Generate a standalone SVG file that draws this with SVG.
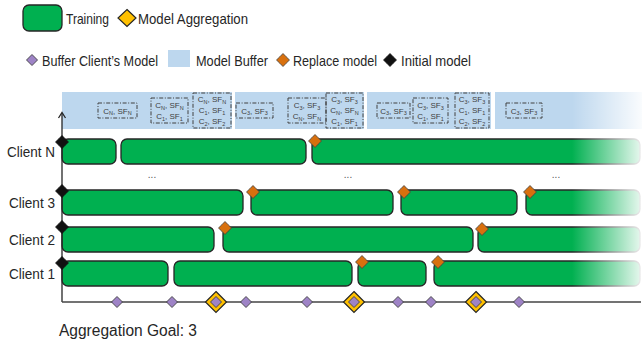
<svg xmlns="http://www.w3.org/2000/svg" width="642" height="346" viewBox="0 0 642 346">
<defs>
<style>
text{font-family:"Liberation Sans",Arial,sans-serif;fill:#262626}
.lg{font-size:15px}
.cl{font-size:15px;text-anchor:end}
.bx{font-size:8px;text-anchor:middle;fill:#404040}
.sub{font-size:5.5px}
.bar{fill:#00B050;stroke:#262626;stroke-width:1.3}
.buf{fill:#BDD7EE}
.dash{fill:none;stroke:#404040;stroke-width:1;stroke-dasharray:4 1.6 1 1.6}
.rep{fill:#D8700E;stroke:#404040;stroke-width:0.8;stroke-linejoin:round}
.ini{fill:#111;stroke:#111;stroke-width:0.8;stroke-linejoin:round}
.pur{fill:#9E83C6;stroke:#404040;stroke-width:0.9}
.agg{fill:#FFC000;stroke:#262626;stroke-width:1.2}
.ax{stroke:#262626;stroke-width:1.3;fill:none}
.dots{font-size:10px;fill:#555;text-anchor:middle}
</style>
<path id="star" d="M0,-6.5 L3.2,-3.2 L6.5,0 L3.2,3.2 L0,6.5 L-3.2,3.2 L-6.5,0 L-3.2,-3.2 Z"/>
<linearGradient id="fade" x1="0" y1="0" x2="1" y2="0">
<stop offset="0" stop-color="#fff" stop-opacity="0"/>
<stop offset="1" stop-color="#fff" stop-opacity="0.92"/>
</linearGradient>
</defs>
<rect width="642" height="346" fill="#fff"/>

<g id="legend">
<rect class="bar" x="23" y="5" width="39" height="26" rx="6"/>
<text class="lg" x="66" y="23.5" textLength="43" lengthAdjust="spacingAndGlyphs">Training</text>
<polygon class="agg" points="127,9.5 136,18 127,26.5 118,18"/>
<text class="lg" x="138" y="23.5" textLength="110" lengthAdjust="spacingAndGlyphs">Model Aggregation</text>
<polygon class="pur" points="32,54.5 37.5,60 32,65.5 26.5,60"/>
<text class="lg" x="42" y="65.5" textLength="116" lengthAdjust="spacingAndGlyphs">Buffer Client’s Model</text>
<rect class="buf" x="168" y="50" width="22" height="17"/>
<text class="lg" x="196" y="65.5" textLength="72" lengthAdjust="spacingAndGlyphs">Model Buffer</text>
<use href="#star" class="rep" x="283" y="60"/>
<text class="lg" x="293" y="65.5" textLength="84" lengthAdjust="spacingAndGlyphs">Replace model</text>
<use href="#star" class="ini" x="390" y="60"/>
<text class="lg" x="401" y="65.5" textLength="70" lengthAdjust="spacingAndGlyphs">Initial model</text>
</g>

<g id="model-buffer">
<rect class="buf" x="62" y="92" width="170" height="37"/>
<rect class="buf" x="235" y="92" width="129" height="37"/>
<rect class="buf" x="367" y="92" width="124" height="37"/>
<rect class="buf" x="495" y="92" width="147" height="37"/>
</g>

<g id="buffer-boxes">
<g id="box1"><rect class="dash" x="98" y="103" width="39" height="15"/>
<text class="bx" x="117.5" y="113.5">C<tspan class="sub" dy="1.5">N</tspan><tspan dy="-1.5">, SF</tspan><tspan class="sub" dy="1.5">N</tspan></text></g>
<g id="box2"><rect class="dash" x="151" y="98" width="37" height="25"/>
<text class="bx" x="169.5" y="108">C<tspan class="sub" dy="1.5">N</tspan><tspan dy="-1.5">, SF</tspan><tspan class="sub" dy="1.5">N</tspan></text>
<text class="bx" x="169.5" y="119">C<tspan class="sub" dy="1.5">1</tspan><tspan dy="-1.5">, SF</tspan><tspan class="sub" dy="1.5">1</tspan></text></g>
<g id="box3"><rect class="dash" x="193" y="93" width="38" height="35"/>
<text class="bx" x="212" y="102">C<tspan class="sub" dy="1.5">N</tspan><tspan dy="-1.5">, SF</tspan><tspan class="sub" dy="1.5">N</tspan></text>
<text class="bx" x="212" y="113">C<tspan class="sub" dy="1.5">1</tspan><tspan dy="-1.5">, SF</tspan><tspan class="sub" dy="1.5">1</tspan></text>
<text class="bx" x="212" y="124">C<tspan class="sub" dy="1.5">2</tspan><tspan dy="-1.5">, SF</tspan><tspan class="sub" dy="1.5">2</tspan></text></g>
<g id="box4"><rect class="dash" x="236" y="103" width="37" height="15"/>
<text class="bx" x="254.5" y="113.5">C<tspan class="sub" dy="1.5">3</tspan><tspan dy="-1.5">, SF</tspan><tspan class="sub" dy="1.5">3</tspan></text></g>
<g id="box5"><rect class="dash" x="288" y="98" width="38" height="25"/>
<text class="bx" x="307" y="108">C<tspan class="sub" dy="1.5">3</tspan><tspan dy="-1.5">, SF</tspan><tspan class="sub" dy="1.5">3</tspan></text>
<text class="bx" x="307" y="119">C<tspan class="sub" dy="1.5">N</tspan><tspan dy="-1.5">, SF</tspan><tspan class="sub" dy="1.5">N</tspan></text></g>
<g id="box6"><rect class="dash" x="326" y="93" width="37" height="35"/>
<text class="bx" x="344.5" y="102">C<tspan class="sub" dy="1.5">3</tspan><tspan dy="-1.5">, SF</tspan><tspan class="sub" dy="1.5">3</tspan></text>
<text class="bx" x="344.5" y="113">C<tspan class="sub" dy="1.5">N</tspan><tspan dy="-1.5">, SF</tspan><tspan class="sub" dy="1.5">N</tspan></text>
<text class="bx" x="344.5" y="124">C<tspan class="sub" dy="1.5">1</tspan><tspan dy="-1.5">, SF</tspan><tspan class="sub" dy="1.5">1</tspan></text></g>
<g id="box7"><rect class="dash" x="377" y="103" width="33" height="15"/>
<text class="bx" x="393.5" y="113.5">C<tspan class="sub" dy="1.5">3</tspan><tspan dy="-1.5">, SF</tspan><tspan class="sub" dy="1.5">3</tspan></text></g>
<g id="box8"><rect class="dash" x="413" y="98" width="35" height="25"/>
<text class="bx" x="430.5" y="108">C<tspan class="sub" dy="1.5">3</tspan><tspan dy="-1.5">, SF</tspan><tspan class="sub" dy="1.5">3</tspan></text>
<text class="bx" x="430.5" y="119">C<tspan class="sub" dy="1.5">1</tspan><tspan dy="-1.5">, SF</tspan><tspan class="sub" dy="1.5">1</tspan></text></g>
<g id="box9"><rect class="dash" x="455" y="93" width="34" height="35"/>
<text class="bx" x="472" y="102">C<tspan class="sub" dy="1.5">3</tspan><tspan dy="-1.5">, SF</tspan><tspan class="sub" dy="1.5">3</tspan></text>
<text class="bx" x="472" y="113">C<tspan class="sub" dy="1.5">1</tspan><tspan dy="-1.5">, SF</tspan><tspan class="sub" dy="1.5">1</tspan></text>
<text class="bx" x="472" y="124">C<tspan class="sub" dy="1.5">2</tspan><tspan dy="-1.5">, SF</tspan><tspan class="sub" dy="1.5">2</tspan></text></g>
<g id="box10"><rect class="dash" x="506" y="103" width="36" height="15"/>
<text class="bx" x="524" y="113.5">C<tspan class="sub" dy="1.5">3</tspan><tspan dy="-1.5">, SF</tspan><tspan class="sub" dy="1.5">3</tspan></text></g>
</g>

<g id="client-N">
<text class="cl" x="55" y="157" textLength="48" lengthAdjust="spacingAndGlyphs">Client N</text>
<rect class="bar" x="62" y="139" width="54" height="25" rx="6"/>
<rect class="bar" x="121" y="139" width="185" height="25" rx="6"/>
<rect class="bar" x="312" y="139" width="328" height="25" rx="6"/>
</g>
<g id="client-3">
<text class="cl" x="55" y="208" textLength="46" lengthAdjust="spacingAndGlyphs">Client 3</text>
<rect class="bar" x="62" y="190" width="181" height="25" rx="6"/>
<rect class="bar" x="251" y="190" width="142" height="25" rx="6"/>
<rect class="bar" x="401" y="190" width="116" height="25" rx="6"/>
<rect class="bar" x="526" y="190" width="114" height="25" rx="6"/>
</g>
<g id="client-2">
<text class="cl" x="55" y="245" textLength="46" lengthAdjust="spacingAndGlyphs">Client 2</text>
<rect class="bar" x="62" y="227" width="152" height="25" rx="6"/>
<rect class="bar" x="223" y="227" width="250" height="25" rx="6"/>
<rect class="bar" x="478" y="227" width="162" height="25" rx="6"/>
</g>
<g id="client-1">
<text class="cl" x="55" y="279" textLength="46" lengthAdjust="spacingAndGlyphs">Client 1</text>
<rect class="bar" x="62" y="261" width="106" height="25" rx="6"/>
<rect class="bar" x="174" y="261" width="178" height="25" rx="6"/>
<rect class="bar" x="358" y="261" width="68" height="25" rx="6"/>
<rect class="bar" x="434" y="261" width="206" height="25" rx="6"/>
</g>

<g id="ellipsis">
<text class="dots" x="152" y="178">...</text>
<text class="dots" x="348" y="178">...</text>
<text class="dots" x="556" y="178">...</text>
</g>

<rect x="572" y="88" width="70" height="204" fill="url(#fade)"/>

<g id="connectors">
<line class="ax" x1="62" y1="113" x2="62" y2="302"/>
<polyline class="ax" points="58.5,118 62,112.5 65.5,118"/>
<line x1="62" y1="302" x2="641" y2="302" stroke="#444" stroke-width="1.3"/>
</g>

<g id="replace-markers">
<use href="#star" class="rep" x="315" y="141"/>
<use href="#star" class="rep" x="253" y="192"/>
<use href="#star" class="rep" x="404" y="192"/>
<use href="#star" class="rep" x="530" y="192"/>
<use href="#star" class="rep" x="225" y="228"/>
<use href="#star" class="rep" x="482" y="229"/>
<use href="#star" class="rep" x="362" y="262"/>
<use href="#star" class="rep" x="438" y="262"/>
</g>
<g id="initial-markers">
<use href="#star" class="ini" x="62" y="142"/>
<use href="#star" class="ini" x="62" y="191"/>
<use href="#star" class="ini" x="62" y="227"/>
<use href="#star" class="ini" x="62" y="263"/>
</g>

<g id="aggregations">
<polygon class="agg" points="216,291.5 226.5,302 216,312.5 205.5,302"/>
<polygon class="agg" points="354,291.5 364.5,302 354,312.5 343.5,302"/>
<polygon class="agg" points="476,291.5 486.5,302 476,312.5 465.5,302"/>
</g>
<g id="buffer-events">
<polygon class="pur" points="117,296.5 122.5,302 117,307.5 111.5,302"/>
<polygon class="pur" points="172,296.5 177.5,302 172,307.5 166.5,302"/>
<polygon class="pur" points="216,296.5 221.5,302 216,307.5 210.5,302"/>
<polygon class="pur" points="246,296.5 251.5,302 246,307.5 240.5,302"/>
<polygon class="pur" points="307,296.5 312.5,302 307,307.5 301.5,302"/>
<polygon class="pur" points="354,296.5 359.5,302 354,307.5 348.5,302"/>
<polygon class="pur" points="398,296.5 403.5,302 398,307.5 392.5,302"/>
<polygon class="pur" points="431,296.5 436.5,302 431,307.5 425.5,302"/>
<polygon class="pur" points="476,296.5 481.5,302 476,307.5 470.5,302"/>
<polygon class="pur" points="519,296.5 524.5,302 519,307.5 513.5,302"/>
</g>

<text id="goal" x="59" y="335.5" style="font-size:16px" textLength="138" lengthAdjust="spacingAndGlyphs">Aggregation Goal: 3</text>
</svg>
